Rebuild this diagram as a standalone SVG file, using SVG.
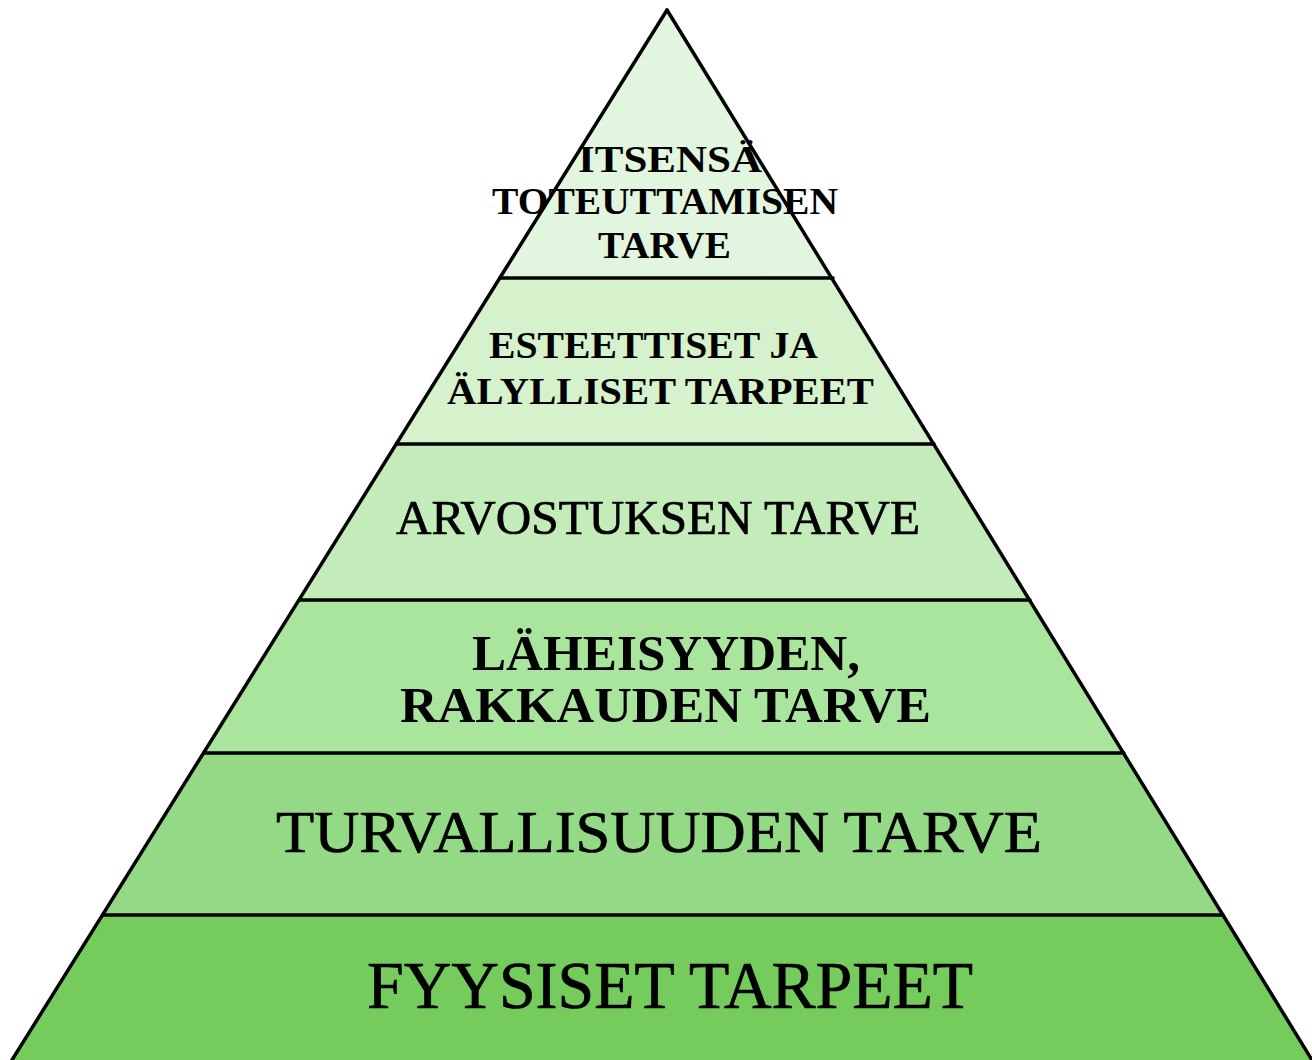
<svg xmlns="http://www.w3.org/2000/svg" width="1312" height="1060" viewBox="0 0 1312 1060">
<style>
.band{stroke:none}
.edge{stroke:#000;stroke-width:3.5;fill:none;stroke-linecap:round}
.t{font-family:"Liberation Serif","Times New Roman",serif;fill:#000}
.r{stroke:#000;stroke-width:0.7}
.b{font-weight:bold}
</style>
<rect width="1312" height="1060" fill="#fff"/>
<g id="level6">
<polygon class="band" points="500,278 833,278 667,10" fill="#e2f5de"/>
<text class="t b" x="578" y="172" font-size="38" textLength="184" lengthAdjust="spacingAndGlyphs">ITSENSÄ</text>
<text class="t b" x="492" y="214" font-size="37" textLength="346" lengthAdjust="spacingAndGlyphs">TOTEUTTAMISEN</text>
<text class="t b" x="598" y="258" font-size="37" textLength="133" lengthAdjust="spacingAndGlyphs">TARVE</text>
</g>
<g id="level5">
<polygon class="band" points="500,278 833,278 934,444 397,444" fill="#d5f2cd"/>
<text class="t b" x="489" y="358" font-size="37" textLength="329" lengthAdjust="spacingAndGlyphs">ESTEETTISET JA</text>
<text class="t b" x="447" y="404" font-size="38" textLength="427" lengthAdjust="spacingAndGlyphs">ÄLYLLISET TARPEET</text>
</g>
<g id="level4">
<polygon class="band" points="397,444 934,444 1030,600 300,600" fill="#c4ecba"/>
<text class="t r" x="396" y="534" font-size="48" textLength="524" lengthAdjust="spacingAndGlyphs">ARVOSTUKSEN TARVE</text>
</g>
<g id="level3">
<polygon class="band" points="300,600 1030,600 1124,753 204,753" fill="#aae59d"/>
<text class="t b" x="472" y="670" font-size="50" textLength="388" lengthAdjust="spacingAndGlyphs">LÄHEISYYDEN,</text>
<text class="t b" x="400" y="722" font-size="51" textLength="531" lengthAdjust="spacingAndGlyphs">RAKKAUDEN TARVE</text>
</g>
<g id="level2">
<polygon class="band" points="204,753 1124,753 1223,915 103,915" fill="#93d986"/>
<text class="t r" x="276" y="852" font-size="60" textLength="766" lengthAdjust="spacingAndGlyphs">TURVALLISUUDEN TARVE</text>
</g>
<g id="level1">
<polygon class="band" points="103,915 1223,915 1312,1060 12,1060" fill="#75cc5d"/>
<text class="t r" x="367" y="1008" font-size="68" textLength="606" lengthAdjust="spacingAndGlyphs">FYYSISET TARPEET</text>
</g>
<g id="connectors">
<line class="edge" x1="667" y1="10" x2="12" y2="1060"/>
<line class="edge" x1="667" y1="10" x2="1312" y2="1060"/>
<line class="edge" x1="500" y1="278" x2="833" y2="278"/>
<line class="edge" x1="397" y1="444" x2="934" y2="444"/>
<line class="edge" x1="300" y1="600" x2="1030" y2="600"/>
<line class="edge" x1="204" y1="753" x2="1124" y2="753"/>
<line class="edge" x1="103" y1="915" x2="1223" y2="915"/>
</g>
</svg>
